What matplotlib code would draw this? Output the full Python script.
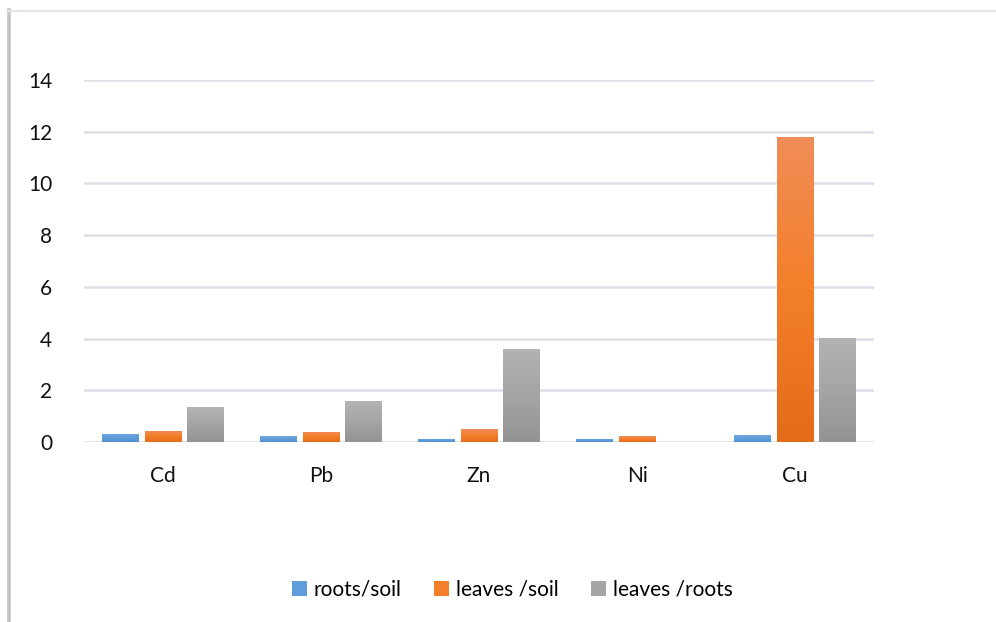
import numpy as np
import matplotlib
matplotlib.use("Agg")
import matplotlib.pyplot as plt
from matplotlib.colors import LinearSegmentedColormap
from matplotlib.lines import Line2D
from matplotlib.patches import Patch

categories = ["Cd", "Pb", "Zn", "Ni", "Cu"]
roots_soil = [0.31, 0.23, 0.13, 0.12, 0.27]
leaves_soil = [0.43, 0.39, 0.50, 0.23, 11.8]
leaves_roots = [1.35, 1.58, 3.60, 0.0, 4.02]
series_names = ["roots/soil", "leaves /soil", "leaves /roots"]
y_ticks = [0, 2, 4, 6, 8, 10, 12, 14]

# gradient stops (top, middle, bottom) for each series
gradients = [
    ["#70A9E1", "#5E9CDA", "#5290D0"],
    ["#F08D58", "#F47F2A", "#E36C18"],
    ["#B3B3B3", "#A5A5A5", "#939393"],
]
legend_colors = ["#5E9CDA", "#F47F2A", "#A5A5A5"]

plt.rcParams["font.family"] = ["Lato", "DejaVu Sans"]

fig = plt.figure(figsize=(9.96, 6.22), dpi=100)
ax = fig.add_axes([84 / 996, 1 - 442 / 622, (874 - 84) / 996, (442 - 80) / 622])

x = np.arange(len(categories))
width = 0.23
offsets = [-0.27, 0.0, 0.27]
all_series = [roots_soil, leaves_soil, leaves_roots]

grad = np.linspace(0, 1, 256).reshape(-1, 1)
for vals, off, stops in zip(all_series, offsets, gradients):
    cmap = LinearSegmentedColormap.from_list("g", stops[::-1])
    bars = ax.bar(x + off, vals, width, color="none", edgecolor="none", zorder=3)
    for b in bars:
        h = b.get_height()
        if h <= 0:
            continue
        x0 = b.get_x()
        im = ax.imshow(grad, cmap=cmap, aspect="auto", origin="lower",
                       extent=[x0, x0 + b.get_width(), 0, h], zorder=3,
                       interpolation="bilinear")
        im.set_clip_path(b)

ax.set_xlim(-0.5, len(categories) - 0.5)
ax.set_ylim(0, 14)
ax.set_yticks(y_ticks)
ax.set_xticks(x)
ax.set_xticklabels(categories)
ax.tick_params(axis="both", length=0, labelsize=15, colors="#111111")
ax.tick_params(axis="y", pad=23)
ax.tick_params(axis="x", pad=17)
ax.grid(axis="y", color="#DCDFE5", linewidth=1.8, zorder=0)
for s in ax.spines.values():
    s.set_visible(False)

# chart frame
fig.add_artist(Line2D([8.5 / 996, 8.5 / 996], [0, 1 - 10 / 622],
                      transform=fig.transFigure, color="#C4C4C4", linewidth=2.6))
fig.add_artist(Line2D([7 / 996, 1], [1 - 10.5 / 622, 1 - 10.5 / 622],
                      transform=fig.transFigure, color="#E3E6EA", linewidth=1.5))

handles = [Patch(facecolor=c, edgecolor="none") for c in legend_colors]
fig.legend(handles, series_names, loc="center", ncol=3,
           bbox_to_anchor=(512 / 996, 1 - 590 / 622), frameon=False,
           fontsize=15, handlelength=0.75, handleheight=0.75,
           handletextpad=0.3, columnspacing=1.55)

fig.savefig("out.png", dpi=100)
